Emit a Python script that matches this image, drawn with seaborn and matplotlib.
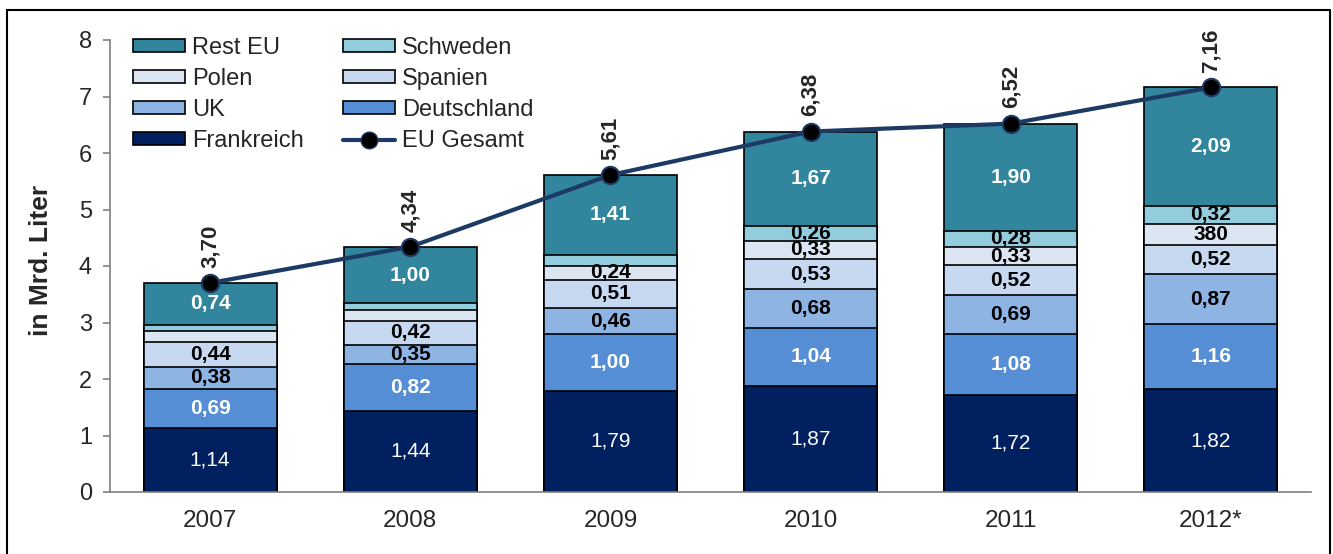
import numpy as np
import matplotlib
matplotlib.use("Agg")
import matplotlib.pyplot as plt
import seaborn as sns
from matplotlib.patches import Patch
from matplotlib.lines import Line2D

# Daten (in Mrd. Liter)
jahre = ["2007", "2008", "2009", "2010", "2011", "2012*"]
frankreich = [1.14, 1.44, 1.79, 1.87, 1.72, 1.82]
deutschland = [0.69, 0.82, 1.00, 1.04, 1.08, 1.16]
uk = [0.38, 0.35, 0.46, 0.68, 0.69, 0.87]
spanien = [0.44, 0.42, 0.51, 0.53, 0.52, 0.52]
polen = [0.20, 0.19, 0.24, 0.33, 0.33, 0.38]
schweden = [0.11, 0.12, 0.20, 0.26, 0.28, 0.32]
rest_eu = [0.74, 1.00, 1.41, 1.67, 1.90, 2.09]
eu_gesamt = [3.70, 4.34, 5.61, 6.38, 6.52, 7.16]

# Beschriftungen der Segmente (None = keine Beschriftung)
lab_frankreich = ["1,14", "1,44", "1,79", "1,87", "1,72", "1,82"]
lab_deutschland = ["0,69", "0,82", "1,00", "1,04", "1,08", "1,16"]
lab_uk = ["0,38", "0,35", "0,46", "0,68", "0,69", "0,87"]
lab_spanien = ["0,44", "0,42", "0,51", "0,53", "0,52", "0,52"]
lab_polen = [None, None, "0,24", "0,33", "0,33", "380"]
lab_schweden = [None, None, None, "0,26", "0,28", "0,32"]
lab_rest = ["0,74", "1,00", "1,41", "1,67", "1,90", "2,09"]
lab_gesamt = ["3,70", "4,34", "5,61", "6,38", "6,52", "7,16"]

# Reihenfolge von unten nach oben: name, werte, farbe, labels, textfarbe, gewicht
serien = [
    ("Frankreich", frankreich, "#00205F", lab_frankreich, "white", "normal"),
    ("Deutschland", deutschland, "#558ED5", lab_deutschland, "white", "bold"),
    ("UK", uk, "#8EB4E3", lab_uk, "black", "bold"),
    ("Spanien", spanien, "#C6D9F1", lab_spanien, "black", "bold"),
    ("Polen", polen, "#DCE6F2", lab_polen, "black", "bold"),
    ("Schweden", schweden, "#93CDDD", lab_schweden, "black", "bold"),
    ("Rest EU", rest_eu, "#31859C", lab_rest, "white", "bold"),
]
linien_farbe = "#1C3A64"
grau = "#808080"

sns.set_style("white")
plt.rcParams["font.family"] = ["Liberation Sans", "DejaVu Sans"]

fig = plt.figure(figsize=(13.33, 5.54), dpi=100)
ax = fig.add_axes([110 / 1333, 62 / 554, 1201 / 1333, 452 / 554])

werte = np.array([s[1] for s in serien])
kumuliert = np.cumsum(werte, axis=0)

# gestapelte Balken: von oben nach unten ueberzeichnen
for i in range(len(serien) - 1, -1, -1):
    sns.barplot(x=jahre, y=kumuliert[i], color=serien[i][2], saturation=1,
                edgecolor="black", linewidth=1.2, width=0.665, ax=ax)

# Segmentbeschriftungen
for i, (name, vals, farbe, labs, tfarbe, gewicht) in enumerate(serien):
    unten = kumuliert[i] - werte[i]
    for j, lab in enumerate(labs):
        if lab is None:
            continue
        ax.text(j, unten[j] + vals[j] / 2, lab, ha="center", va="center",
                fontsize=15, color=tfarbe, fontweight=gewicht)

# Gesamtlinie
sns.lineplot(x=np.arange(len(jahre)), y=eu_gesamt, ax=ax, color=linien_farbe,
             linewidth=3, marker="o", markersize=12.5, markerfacecolor="black",
             markeredgecolor=linien_farbe, markeredgewidth=1.5, legend=False)
for j, lab in enumerate(lab_gesamt):
    ax.annotate(lab, (j, eu_gesamt[j]), xytext=(0, 11), textcoords="offset points",
                rotation=90, ha="center", va="bottom", fontsize=16, fontweight="bold")

ax.set_xlim(-0.5, len(jahre) - 0.5)
ax.set_ylim(0, 8)
ax.set_yticks(range(9))
ax.set_xticks(range(len(jahre)))
ax.set_xticklabels(jahre)
ax.set_xticks(np.arange(-0.5, len(jahre)), minor=True)
ax.tick_params(axis="x", which="major", length=0, labelsize=17.5, pad=13)
ax.tick_params(axis="x", which="minor", length=6, width=1.2, color=grau)
ax.tick_params(axis="y", length=5, width=1.2, color=grau, labelsize=17, pad=8, left=True)
ax.set_xlabel("")
ax.set_ylabel("in Mrd. Liter", fontsize=19, fontweight="bold")
ax.yaxis.set_label_coords(-0.0475, 0.513)
for s in ["top", "right"]:
    ax.spines[s].set_visible(False)
for s in ["left", "bottom"]:
    ax.spines[s].set_color(grau)
    ax.spines[s].set_linewidth(1.2)

# Legende (zwei Spalten)
handles = [
    Patch(facecolor="#31859C", edgecolor="black", linewidth=1.2, label="Rest EU"),
    Patch(facecolor="#DCE6F2", edgecolor="black", linewidth=1.2, label="Polen"),
    Patch(facecolor="#8EB4E3", edgecolor="black", linewidth=1.2, label="UK"),
    Patch(facecolor="#00205F", edgecolor="black", linewidth=1.2, label="Frankreich"),
    Patch(facecolor="#93CDDD", edgecolor="black", linewidth=1.2, label="Schweden"),
    Patch(facecolor="#C6D9F1", edgecolor="black", linewidth=1.2, label="Spanien"),
    Patch(facecolor="#558ED5", edgecolor="black", linewidth=1.2, label="Deutschland"),
    Line2D([0], [0], color=linien_farbe, linewidth=3, marker="o", markersize=12,
           markerfacecolor="black", markeredgecolor=linien_farbe, label="EU Gesamt"),
]
fig.legend(handles=handles, ncol=2, loc="upper left",
           bbox_to_anchor=(133 / 1333, 1 - 37 / 554), frameon=False,
           fontsize=17, handlelength=2.2, handleheight=0.45, handletextpad=0.3,
           columnspacing=1.65, labelspacing=0.38, borderpad=0, borderaxespad=0)

# Rahmen um die Grafik
for xs, ys in [([7, 7], [0, 544]), ([7, 1330], [544, 544]), ([1330, 1330], [0, 544])]:
    fig.add_artist(Line2D(np.array(xs) / 1333, np.array(ys) / 554,
                          color="black", linewidth=1.5))

fig.savefig("out.png", dpi=100)
